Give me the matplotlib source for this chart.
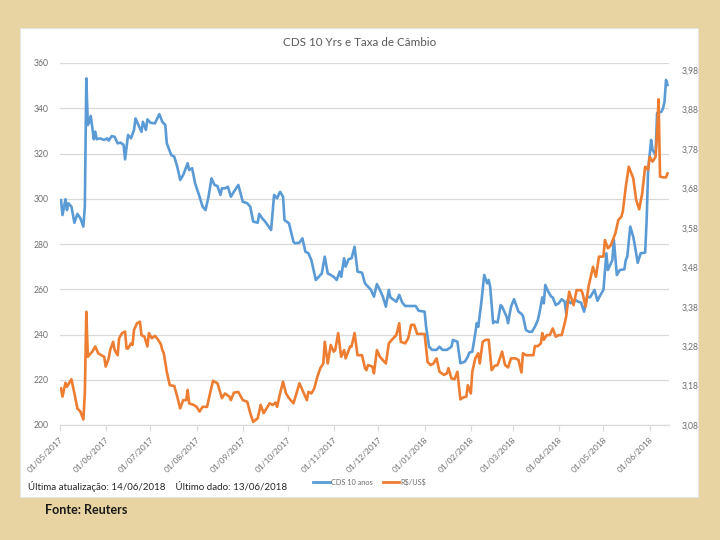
import numpy as np
import matplotlib
matplotlib.use("Agg")
import matplotlib.pyplot as plt
import matplotlib.dates as mdates
from matplotlib.patches import Rectangle
from matplotlib.lines import Line2D

plt.rcParams['font.family'] = ['Lato', 'DejaVu Sans']

# Dates are stored as days since 01/05/2017
start_date = np.datetime64('2017-05-01')

# CDS 10 anos (left axis)
cds_days = [1, 2, 4, 5, 6, 8, 10, 12, 14, 16,
            17, 18, 19, 20, 21, 23, 24, 25, 27, 30,
            32, 33, 35, 37, 39, 41, 43, 44, 46, 48,
            50, 51, 53, 55, 56, 58, 59, 61, 64, 67,
            69, 71, 72, 75, 77, 79, 81, 83, 86, 87,
            89, 91, 94, 96, 98, 100, 102, 104, 106, 108,
            109, 111, 113, 115, 117, 120, 123, 126, 128, 130,
            133, 134, 136, 138, 142, 144, 146, 148, 150, 151,
            154, 157, 158, 161, 163, 165, 167, 169, 171, 172,
            174, 176, 178, 180, 182, 184, 186, 188, 189, 191,
            192, 194, 196, 198, 200, 203, 205, 209, 211, 213,
            215, 217, 219, 221, 222, 226, 228, 230, 232, 236,
            239, 241, 245, 246, 248, 250, 253, 255, 257, 260,
            263, 264, 267, 269, 272, 274, 275, 277, 279, 280,
            281, 283, 285, 287, 288, 289, 291, 292, 294, 296,
            297, 300, 301, 303, 305, 306, 308, 310, 311, 313,
            315, 317, 319, 321, 322, 324, 325, 326, 328, 330,
            331, 333, 335, 337, 339, 340, 341, 343, 346, 348,
            350, 352, 354, 356, 359, 361, 363, 365, 367, 368,
            371, 372, 374, 376, 379, 380, 381, 383, 385, 386,
            388, 390, 393, 394, 395, 397, 398, 400, 401, 404,
            405, 406, 407, 408]
cds_values = [299.4, 292.8, 299.8, 295.0, 298.0, 296.5, 289.4, 293.3, 291.4, 287.7,
              296.5, 353.2, 332.6, 334.0, 336.6, 326.3, 329.7, 326.3, 326.7, 326.0,
              326.7, 325.7, 327.7, 327.4, 324.5, 324.8, 323.8, 317.4, 328.2, 326.7,
              330.4, 335.5, 332.6, 329.6, 334.0, 330.4, 335.1, 333.6, 333.3, 337.4,
              334.0, 332.6, 324.5, 319.3, 318.6, 314.2, 308.3, 310.5, 315.7, 312.7,
              313.5, 306.8, 300.9, 296.5, 295.0, 300.9, 309.0, 306.1, 305.6, 301.7,
              304.6, 304.6, 305.3, 300.9, 303.1, 306.1, 298.7, 298.0, 296.5, 289.9,
              289.4, 293.3, 291.4, 289.9, 286.2, 301.7, 300.2, 303.1, 300.9, 290.6,
              289.1, 281.0, 280.3, 280.6, 282.5, 276.6, 275.9, 272.9, 267.0, 264.1,
              265.5, 267.0, 274.4, 267.0, 266.3, 265.5, 264.1, 267.8, 265.5, 273.7,
              270.0, 273.3, 273.7, 278.8, 267.8, 267.3, 262.6, 259.7, 256.7, 262.3,
              259.7, 256.7, 252.3, 259.7, 256.4, 254.5, 257.5, 254.1, 252.6, 252.6,
              252.6, 250.5, 250.1, 243.4, 234.6, 233.2, 233.2, 234.6, 233.2, 233.2,
              234.6, 237.6, 236.8, 227.3, 228.0, 230.2, 232.0, 232.4, 240.5, 245.0,
              243.4, 253.8, 266.3, 262.6, 264.1, 261.1, 245.0, 245.7, 245.3, 253.0,
              252.3, 247.9, 245.0, 252.3, 255.6, 253.8, 250.1, 249.1, 248.2, 242.0,
              241.2, 241.2, 243.4, 246.4, 249.4, 256.4, 253.8, 261.9, 258.9, 256.7,
              256.4, 253.0, 253.8, 255.6, 254.5, 249.4, 255.3, 253.8, 255.3, 254.5,
              254.1, 250.1, 256.7, 256.4, 259.7, 254.9, 257.5, 259.7, 275.9, 268.5,
              272.9, 281.8, 266.3, 268.5, 268.8, 272.9, 274.4, 287.7, 283.2, 279.6,
              271.7, 275.9, 276.2, 290.6, 312.7, 326.0, 321.5, 319.3, 337.8, 338.5,
              340.0, 342.9, 352.5, 350.3]

# R$/US$ (right axis)
fx_days = [1, 2, 4, 5, 8, 10, 12, 14, 16, 17,
           18, 19, 21, 22, 24, 26, 28, 30, 31, 33,
           34, 36, 37, 39, 40, 42, 44, 45, 46, 48,
           49, 50, 52, 54, 55, 57, 59, 60, 62, 64,
           66, 68, 69, 70, 72, 74, 77, 79, 81, 83,
           85, 86, 87, 90, 92, 94, 96, 99, 101, 103,
           106, 108, 109, 111, 114, 115, 117, 120, 123, 126,
           128, 130, 133, 135, 137, 141, 143, 145, 146, 148,
           150, 152, 154, 157, 159, 161, 163, 166, 167, 169,
           171, 173, 175, 177, 178, 180, 182, 184, 185, 187,
           189, 191, 192, 195, 196, 198, 200, 203, 205, 206,
           207, 210, 211, 213, 215, 218, 219, 221, 223, 226,
           228, 229, 232, 234, 236, 238, 240, 242, 245, 247,
           249, 251, 253, 255, 258, 260, 261, 263, 265, 267,
           269, 271, 273, 274, 276, 277, 279, 281, 282, 284,
           286, 288, 290, 292, 294, 297, 299, 301, 303, 306,
           308, 310, 311, 313, 318, 319, 321, 323, 324, 325,
           327, 329, 331, 333, 335, 337, 339, 340, 342, 345,
           347, 350, 351, 353, 355, 358, 360, 362, 365, 366,
           368, 370, 373, 375, 377, 378, 380, 382, 385, 387,
           389, 391, 393, 395, 396, 398, 400, 401, 402, 403,
           405, 407, 408]
fx_values = [3.173, 3.152, 3.187, 3.177, 3.196, 3.160, 3.122, 3.114, 3.094, 3.160,
             3.367, 3.253, 3.262, 3.266, 3.279, 3.262, 3.257, 3.253, 3.228, 3.249,
             3.270, 3.291, 3.270, 3.257, 3.300, 3.313, 3.317, 3.274, 3.274, 3.287,
             3.283, 3.321, 3.338, 3.342, 3.308, 3.304, 3.279, 3.313, 3.300, 3.306,
             3.297, 3.285, 3.270, 3.262, 3.215, 3.181, 3.179, 3.152, 3.122, 3.143,
             3.143, 3.169, 3.135, 3.131, 3.126, 3.114, 3.126, 3.126, 3.160, 3.192,
             3.186, 3.160, 3.148, 3.160, 3.152, 3.143, 3.162, 3.164, 3.143, 3.139,
             3.110, 3.088, 3.097, 3.131, 3.110, 3.135, 3.131, 3.137, 3.126, 3.160,
             3.190, 3.160, 3.148, 3.135, 3.160, 3.186, 3.169, 3.143, 3.164, 3.160,
             3.173, 3.202, 3.224, 3.236, 3.291, 3.236, 3.283, 3.266, 3.270, 3.313,
             3.253, 3.270, 3.249, 3.279, 3.279, 3.313, 3.257, 3.257, 3.224, 3.219,
             3.232, 3.228, 3.211, 3.270, 3.253, 3.240, 3.236, 3.287, 3.296, 3.308,
             3.338, 3.291, 3.287, 3.300, 3.334, 3.334, 3.311, 3.311, 3.311, 3.240,
             3.232, 3.236, 3.249, 3.215, 3.207, 3.211, 3.224, 3.198, 3.196, 3.215,
             3.145, 3.150, 3.152, 3.181, 3.160, 3.215, 3.249, 3.262, 3.236, 3.291,
             3.296, 3.296, 3.219, 3.230, 3.232, 3.266, 3.232, 3.226, 3.249, 3.249,
             3.245, 3.213, 3.262, 3.257, 3.257, 3.280, 3.280, 3.287, 3.313, 3.296,
             3.308, 3.308, 3.325, 3.304, 3.308, 3.308, 3.338, 3.355, 3.418, 3.384,
             3.422, 3.422, 3.414, 3.380, 3.431, 3.481, 3.456, 3.507, 3.507, 3.549,
             3.528, 3.536, 3.566, 3.600, 3.608, 3.621, 3.684, 3.735, 3.706, 3.650,
             3.627, 3.667, 3.735, 3.727, 3.760, 3.748, 3.760, 3.820, 3.906, 3.710,
             3.708, 3.708, 3.718]

left_ticks = [200, 220, 240, 260, 280, 300, 320, 340, 360]
right_ticks = [3.08, 3.18, 3.28, 3.38, 3.48, 3.58, 3.68, 3.78, 3.88, 3.98]

title = 'CDS 10 Yrs e Taxa de Câmbio'
footer = 'Última atualização: 14/06/2018    Último dado: 13/06/2018'
source = 'Fonte: Reuters'
series_names = ['CDS 10 anos', r'R\$/US\$']

cds_dates = start_date + np.array(cds_days)
fx_dates = start_date + np.array(fx_days)

blue = '#5B9BD5'
orange = '#ED7D31'
grid_c = '#D9D9D9'
text_c = '#6E6E6E'

fig = plt.figure(figsize=(7.2, 5.4), dpi=100, facecolor='#E8D4A2')
W, H = 720, 540

# white chart panel behind the axes
fig.patches.append(Rectangle((20 / W, 1 - 497 / H), 678 / W, 469 / H,
                             transform=fig.transFigure, facecolor='white',
                             edgecolor='#E6E6E6', lw=0.8, zorder=-5))

ax = fig.add_axes([59.5 / W, 1 - 425 / H, 609.5 / W, 362 / H])
ax.set_facecolor('none')
ax2 = ax.twinx()

ax.plot(cds_dates, cds_values, color=blue, lw=1.9, solid_joinstyle='round')
ax2.plot(fx_dates, fx_values, color=orange, lw=1.9, solid_joinstyle='round')

ax.set_ylim(200, 360)
ax2.set_ylim(3.08, 3.998)
ax.set_xlim(start_date, start_date + np.timedelta64(409, 'D'))

ax.set_yticks(left_ticks)
ax.set_yticklabels([str(v) for v in left_ticks])
ax2.set_yticks(right_ticks)
ax2.set_yticklabels([f'{v:.2f}'.replace('.', ',') for v in right_ticks])

ax.xaxis.set_major_locator(mdates.MonthLocator())
ax.xaxis.set_major_formatter(mdates.DateFormatter('%d/%m/%Y'))
for lab in ax.get_xticklabels():
    lab.set_rotation(45)
    lab.set_ha('right')
    lab.set_rotation_mode('anchor')

ax.grid(axis='y', color=grid_c, lw=0.9)
ax.set_axisbelow(True)
for a in (ax, ax2):
    for s in ('top', 'left', 'right'):
        a.spines[s].set_visible(False)
    a.spines['bottom'].set_color(grid_c)
ax.tick_params(axis='y', length=0, labelsize=6.2, labelcolor=text_c, pad=8)
ax2.tick_params(axis='y', length=0, labelsize=6.2, labelcolor=text_c, pad=9)
ax.tick_params(axis='x', length=4, color=grid_c, labelsize=6,
               labelcolor=text_c, pad=4)

fig.text(360 / W, 1 - 43 / H, title, ha='center', va='center',
         fontsize=8.4, color='#595959')
fig.text(28 / W, 1 - 487 / H, footer, ha='left', va='center',
         fontsize=7, color='#262626')

handles = [Line2D([], [], color=blue, lw=2), Line2D([], [], color=orange, lw=2)]
fig.legend(handles, series_names, loc='center',
           bbox_to_anchor=(370 / W, 1 - 482 / H), ncol=2, frameon=False,
           fontsize=5.3, labelcolor=text_c, handlelength=2.2,
           columnspacing=1.3, handletextpad=0.25)

fig.text(45 / W, 1 - 510 / H, source, ha='left', va='center',
         fontsize=9, fontweight='bold', color='#1A1A1A')

fig.savefig('out.png', dpi=100, facecolor=fig.get_facecolor())
